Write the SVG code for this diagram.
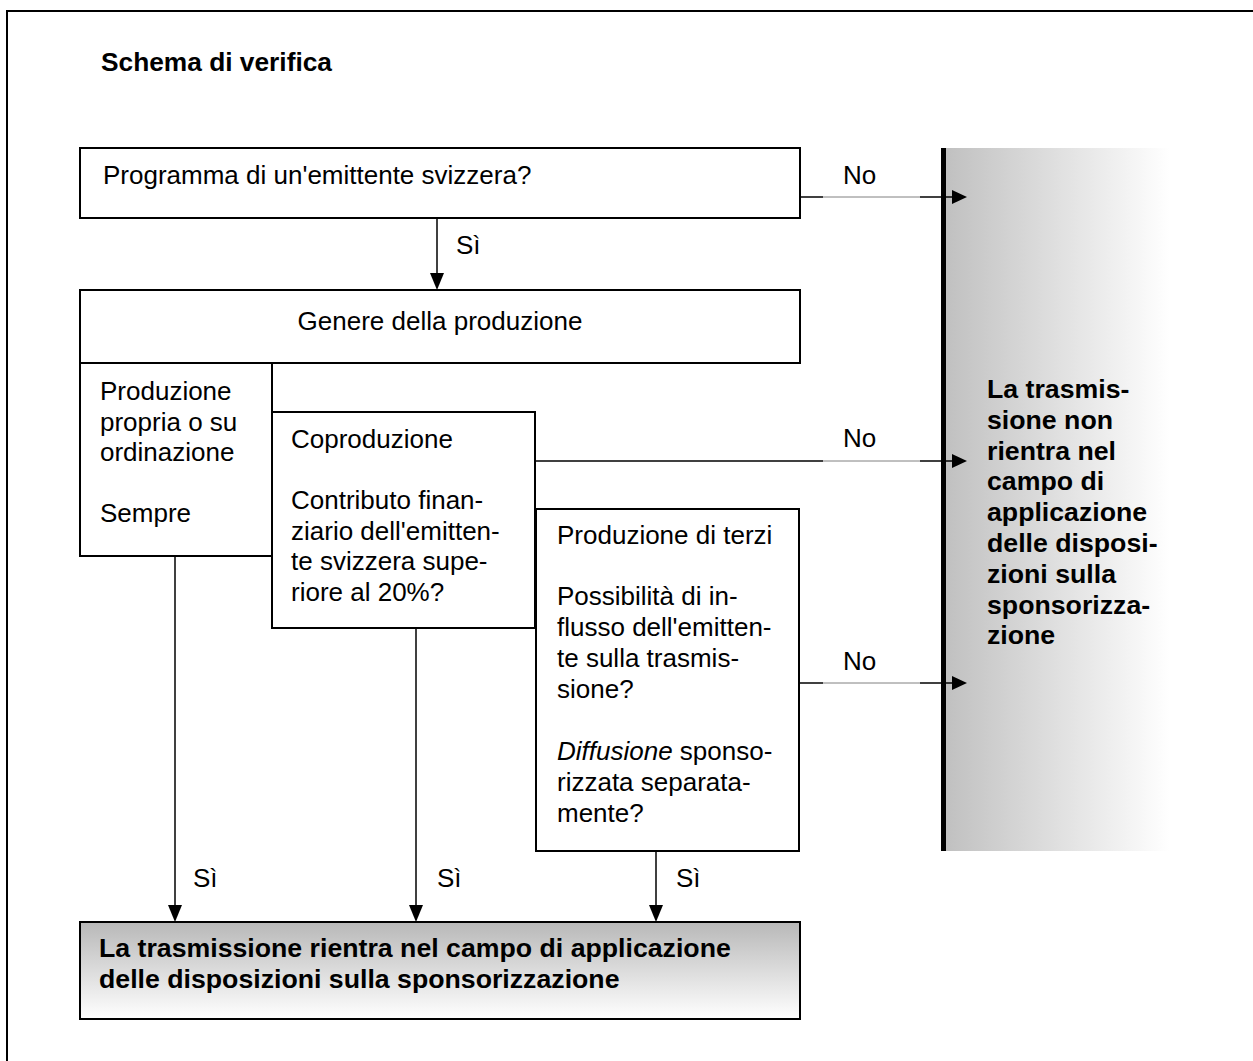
<svg xmlns="http://www.w3.org/2000/svg" width="1253" height="1061" viewBox="0 0 1253 1061">
<defs>
<linearGradient id="gRight" x1="0" y1="0" x2="1" y2="0">
<stop offset="0" stop-color="#c0c0c0"/>
<stop offset="1" stop-color="#ffffff"/>
</linearGradient>
<linearGradient id="gBottom" x1="0" y1="0" x2="0" y2="1">
<stop offset="0" stop-color="#b8b8b8"/>
<stop offset="1" stop-color="#ffffff"/>
</linearGradient>
</defs>
<style>
text{font-family:"Liberation Sans",Arial,sans-serif;font-size:26px;fill:#000}
.b{font-weight:bold;font-size:26.7px}
.t{font-weight:bold;font-size:26.3px}
.box{fill:#fff;stroke:#000;stroke-width:2}
.ln{stroke:#000;stroke-width:1.5;fill:none}
.gl{stroke:#808080;stroke-width:1;fill:none}
.ah{fill:#000;stroke:none}
</style>
<rect width="1253" height="1061" fill="#fff"/>
<path d="M7,1061 V11 H1253" fill="none" stroke="#000" stroke-width="2"/>
<text id="title" class="t" x="101" y="71">Schema di verifica</text>

<g id="n-outside">
<rect x="944" y="148" width="226" height="703" fill="url(#gRight)"/>
<rect x="941" y="148" width="5" height="703" fill="#000"/>
<text class="b" x="987">
<tspan x="987" y="398">La trasmis-</tspan>
<tspan x="987" y="428.8">sione non</tspan>
<tspan x="987" y="459.6">rientra nel</tspan>
<tspan x="987" y="490.4">campo di</tspan>
<tspan x="987" y="521.2">applicazione</tspan>
<tspan x="987" y="552">delle disposi-</tspan>
<tspan x="987" y="582.8">zioni sulla</tspan>
<tspan x="987" y="613.6">sponsorizza-</tspan>
<tspan x="987" y="644.4">zione</tspan>
</text>
</g>

<g id="n-programma">
<rect class="box" x="80" y="148" width="720" height="70"/>
<text x="103" y="184">Programma di un'emittente svizzera?</text>
</g>

<g id="n-genere">
<rect class="box" x="80" y="290" width="720" height="73"/>
<text x="440" y="330" text-anchor="middle">Genere della produzione</text>
</g>

<g id="n-propria">
<rect class="box" x="80" y="363" width="192" height="193"/>
<text>
<tspan x="100" y="400">Produzione</tspan>
<tspan x="100" y="430.5">propria o su</tspan>
<tspan x="100" y="461">ordinazione</tspan>
<tspan x="100" y="522">Sempre</tspan>
</text>
</g>

<g id="n-coproduzione">
<rect class="box" x="272" y="412" width="263" height="216"/>
<text>
<tspan x="291" y="448">Coproduzione</tspan>
<tspan x="291" y="509">Contributo finan-</tspan>
<tspan x="291" y="539.5">ziario dell'emitten-</tspan>
<tspan x="291" y="570">te svizzera supe-</tspan>
<tspan x="291" y="600.5">riore al 20%?</tspan>
</text>
</g>

<g id="n-terzi">
<rect class="box" x="536" y="509" width="263" height="342"/>
<text>
<tspan x="557" y="544">Produzione di terzi</tspan>
<tspan x="557" y="605">Possibilità di in-</tspan>
<tspan x="557" y="636">flusso dell'emitten-</tspan>
<tspan x="557" y="667">te sulla trasmis-</tspan>
<tspan x="557" y="698">sione?</tspan>
<tspan x="557" y="760"><tspan font-style="italic">Diffusione</tspan> sponso-</tspan>
<tspan x="557" y="791">rizzata separata-</tspan>
<tspan x="557" y="822">mente?</tspan>
</text>
</g>

<g id="n-inside">
<rect x="80" y="922" width="720" height="97" fill="url(#gBottom)" stroke="#000" stroke-width="2"/>
<text class="b">
<tspan x="99" y="957">La trasmissione rientra nel campo di applicazione</tspan>
<tspan x="99" y="988">delle disposizioni sulla sponsorizzazione</tspan>
</text>
</g>

<g id="connectors">
<line class="ln" x1="800" y1="197" x2="823" y2="197"/>
<line class="gl" x1="823" y1="197" x2="920" y2="197"/>
<line class="ln" x1="920" y1="197" x2="953" y2="197"/>
<polygon class="ah" points="952,190 967,197 952,204"/>
<text x="843" y="184">No</text>

<line class="ln" x1="535" y1="461" x2="823" y2="461"/>
<line class="gl" x1="823" y1="461" x2="920" y2="461"/>
<line class="ln" x1="920" y1="461" x2="953" y2="461"/>
<polygon class="ah" points="952,454 967,461 952,468"/>
<text x="843" y="447">No</text>

<line class="ln" x1="799" y1="683" x2="823" y2="683"/>
<line class="gl" x1="823" y1="683" x2="920" y2="683"/>
<line class="ln" x1="920" y1="683" x2="953" y2="683"/>
<polygon class="ah" points="952,676 967,683 952,690"/>
<text x="843" y="670">No</text>

<line class="ln" x1="437" y1="218" x2="437" y2="274"/>
<polygon class="ah" points="430,273 444,273 437,290"/>
<text x="456" y="254">Sì</text>

<line class="ln" x1="175" y1="556" x2="175" y2="906"/>
<polygon class="ah" points="168,905 182,905 175,922"/>
<text x="193" y="887">Sì</text>

<line class="ln" x1="416" y1="628" x2="416" y2="906"/>
<polygon class="ah" points="409,905 423,905 416,922"/>
<text x="437" y="887">Sì</text>

<line class="ln" x1="656" y1="851" x2="656" y2="906"/>
<polygon class="ah" points="649,905 663,905 656,922"/>
<text x="676" y="887">Sì</text>
</g>
</svg>
